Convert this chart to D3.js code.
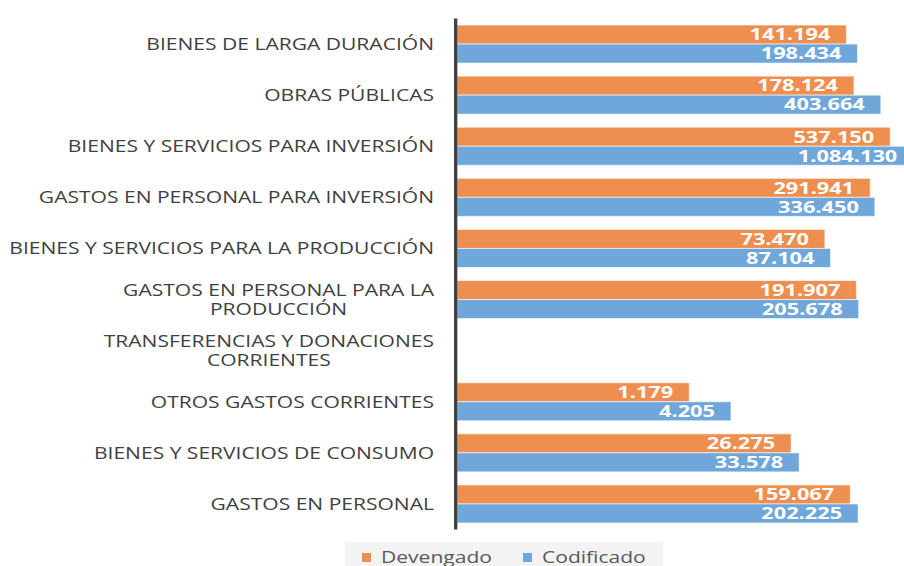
<!DOCTYPE html>
<meta charset="utf-8">
<script src="https://d3js.org/d3.v7.min.js"></script>
<style type="text/css">
body { margin: 0; background: #fff; }
.categoria { fill: #404040; font-family: "Open Sans", sans-serif; font-size: 16px; }
.valor { fill: #fff; font-family: "Open Sans", sans-serif; font-size: 16px; font-weight: bold; }
.leyenda { fill: #595959; font-family: "Open Sans", sans-serif; font-size: 16px; }
</style>
<body>
<div id="canvas"></div>
<script>

// categorias (de arriba hacia abajo), "\n" marca el salto de linea
var categorias = [
    "BIENES DE LARGA DURACIÓN",
    "OBRAS PÚBLICAS",
    "BIENES Y SERVICIOS PARA INVERSIÓN",
    "GASTOS EN PERSONAL PARA INVERSIÓN",
    "BIENES Y SERVICIOS PARA LA PRODUCCIÓN",
    "GASTOS EN PERSONAL PARA LA\nPRODUCCIÓN",
    "TRANSFERENCIAS Y DONACIONES\nCORRIENTES",
    "OTROS GASTOS CORRIENTES",
    "BIENES Y SERVICIOS DE CONSUMO",
    "GASTOS EN PERSONAL"
];
var series = ["Devengado", "Codificado"];
var devengado  = [141194, 178124, 537150, 291941, 73470, 191907, null, 1179, 26275, 159067];
var codificado = [198434, 403664, 1084130, 336450, 87104, 205678, null, 4205, 33578, 202225];
var colores = ["#ee8e4f", "#6fa7da"];

var width = 904;
var height = 566;
var estirar = 1.315;     // el texto del original esta estirado a lo ancho
var estirarValor = 1.36;

var svg = d3.select('#canvas')
    .append("svg")
    .attr("width", width)
    .attr("height", height);

// escalas ----------------------------------------------------------
var x = d3.scaleLog()
    .domain([1, 1e6])
    .range([457, 910.6]);

var y = d3.scaleBand()
    .domain(categorias)
    .range([18.5, 529.5])
    .paddingInner(0.256)
    .paddingOuter(0.128);

var ySerie = d3.scaleBand()
    .domain(series)
    .range([0, y.bandwidth()]);

var fmt = d3.formatLocale({decimal: ",", thousands: ".", grouping: [3], currency: ["$", ""]}).format(",d");

var filas = [];
categorias.forEach(function(c, i) {
    filas.push({cat: c, serie: series[0], value: devengado[i]});
    filas.push({cat: c, serie: series[1], value: codificado[i]});
});
filas = filas.filter(function(d) { return d.value != null; });

// barras -------------------------------------------------------
svg.selectAll(".barra")
    .data(filas)
    .enter()
    .append("rect")
    .attr("class", "barra")
    .attr("x", x(1))
    .attr("y", function(d) { return y(d.cat) + ySerie(d.serie); })
    .attr("width", function(d) { return x(d.value) - x(1); })
    .attr("height", ySerie.bandwidth())
    .attr("fill", function(d) { return colores[series.indexOf(d.serie)]; })
    .attr("stroke", "rgba(255,255,255,0.6)")
    .attr("stroke-width", 1);

// valores dentro de las barras
svg.selectAll(".valor")
    .data(filas)
    .enter()
    .append("text")
    .attr("class", "valor")
    .attr("text-anchor", "end")
    .attr("transform", function(d) {
        var cy = y(d.cat) + ySerie(d.serie) + ySerie.bandwidth() / 2;
        return "translate(" + (x(d.value) - 16) + "," + (cy + 5.8) + ") scale(" + estirarValor + ",1)";
    })
    .text(function(d) { return fmt(d.value); });

// eje vertical
svg.append("line")
    .attr("x1", 455.7).attr("x2", 455.7)
    .attr("y1", y.range()[0]).attr("y2", y.range()[1])
    .attr("stroke", "#404040")
    .attr("stroke-width", 3.3);

// etiquetas de categorias ----------------------------------------
categorias.forEach(function(c) {
    var lineas = c.split("\n");
    var cy = y(c) + y.bandwidth() / 2;
    var g = svg.append("g")
        .attr("transform", "translate(434," + cy + ") scale(" + estirar + ",1)");
    var textos = lineas.map(function(l, i) {
        return g.append("text")
            .attr("class", "categoria")
            .attr("y", (i - (lineas.length - 1) / 2) * 19.5 + 5.8)
            .text(l);
    });
    var maxW = d3.max(textos, function(t) { return t.node().getComputedTextLength(); });
    textos.forEach(function(t) {
        if (lineas.length > 1) {
            t.attr("text-anchor", "middle").attr("x", -maxW / 2);
        } else {
            t.attr("text-anchor", "end");
        }
    });
});

// leyenda --------------------------------------------------------
svg.append("rect")
    .attr("x", 345).attr("y", 542)
    .attr("width", 318).attr("height", 30)
    .attr("fill", "#f3f3f3");

var leyendaX = [362, 523];
series.forEach(function(s, i) {
    svg.append("rect")
        .attr("x", leyendaX[i]).attr("y", 553)
        .attr("width", 9).attr("height", 9)
        .attr("fill", colores[i]);
    svg.append("text")
        .attr("class", "leyenda")
        .attr("transform", "translate(" + (leyendaX[i] + 19) + ",563) scale(" + estirar + ",1)")
        .text(s);
});
</script>
</body>
